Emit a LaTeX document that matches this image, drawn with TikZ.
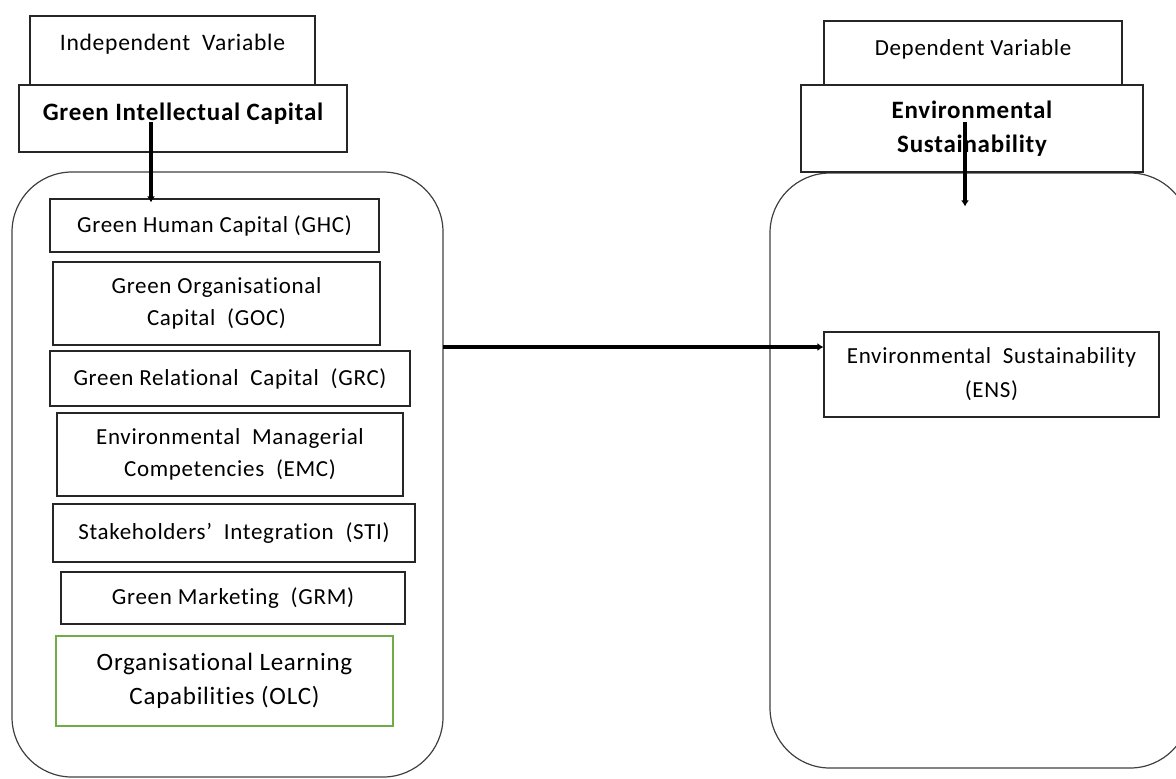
\documentclass[tikz,border=0pt]{standalone}
\usepackage{fontspec}
\setmainfont{Carlito}[LetterSpace=3,Ligatures=NoCommon]
\usepackage{tikz}
\usetikzlibrary{arrows.meta,positioning}
\definecolor{olcgreen}{HTML}{70AD47}

\begin{document}
\begin{tikzpicture}[x=0.5pt,y=-0.5pt,
        varbox/.style={draw=black!85,line width=0.6pt,inner sep=0pt,align=center,
            font=\fontsize{11.5}{16}\selectfont},
        headbox/.style={varbox,font=\fontsize{12.5}{17}\selectfont\bfseries},
        group/.style={draw=black!75,line width=0.6pt,rounded corners=30pt},
        conn/.style={line width=2pt,-{Latex[length=3pt,width=4pt]}}]
            \useasboundingbox (0,0) rectangle (1176,778);
            \clip (0,0) rectangle (1176,778);
            % containers
            \draw[group] (12,172) rectangle (443,777);
            \node[group,minimum width=210pt,minimum height=297.5pt] (dvgroup) at (980,470.5) {};
            % heads
            \node[varbox,minimum width=142.5pt,minimum height=34.5pt,text depth=8pt,
                font=\fontsize{11.8}{16}\selectfont] (indep) at (172.5,50.5) {Independent\ \ Variable};
            \node[headbox,minimum width=164pt,minimum height=33.5pt,text depth=7pt] (gic) at (183,118.5) {Green Intellectual Capital};
            \node[varbox,minimum width=149pt,minimum height=32pt,text depth=5.5pt] (dep) at (973,53) {Dependent Variable};
            \node[headbox,minimum width=171pt,minimum height=43.5pt] (envsus) at (972,128.5) {Environmental\\Sustainability};
            % dimensions
            \node[varbox,minimum width=164.5pt,minimum height=26.5pt] (ghc) at (214.5,225.5) {Green Human Capital (GHC)};
            \node[varbox,minimum width=163.5pt,minimum height=41.5pt] (goc) at (216.5,303.5) {Green Organisational\\Capital\ \ (GOC)};
            \node[varbox,minimum width=180pt,minimum height=27.5pt] (grc) at (230,378.5) {Green Relational\ \ Capital\ \ (GRC)};
            \node[varbox,minimum width=173pt,minimum height=41.5pt] (emc) at (230,454.5) {Environmental\ \ Managerial\\Competencies\ \ (EMC)};
            \node[varbox,minimum width=181pt,minimum height=29pt] (sti) at (234,533) {Stakeholders’\ \ Integration\ \ (STI)};
            \node[varbox,minimum width=172pt,minimum height=26pt] (grm) at (233,598) {Green Marketing\ \ (GRM)};
            \node[varbox,draw=olcgreen,minimum width=168.5pt,minimum height=45pt,
                font=\fontsize{12.5}{17}\selectfont] (olc) at (224.5,681) {Organisational Learning\\Capabilities (OLC)};
            \node[varbox,minimum width=167.5pt,minimum height=42.5pt,
                font=\fontsize{11.5}{17}\selectfont] (ens) at (991.5,374.5) {Environmental\ \ Sustainability\\(ENS)};
            % links
            \draw[conn] ([xshift=-16pt,yshift=-1.75pt]gic.center) coordinate (gicdown) -- ([yshift=-2pt]gicdown |- ghc.north);
            \draw[conn] ([xshift=-3.5pt,yshift=3.25pt]envsus.center) coordinate (esdown) -- ([yshift=-17pt]esdown |- dvgroup.north);
            \draw[conn] ([yshift=13.75pt]ens.west -| 443,0) -- ([yshift=13.75pt]ens.west);
        \end{tikzpicture}
\end{document}
